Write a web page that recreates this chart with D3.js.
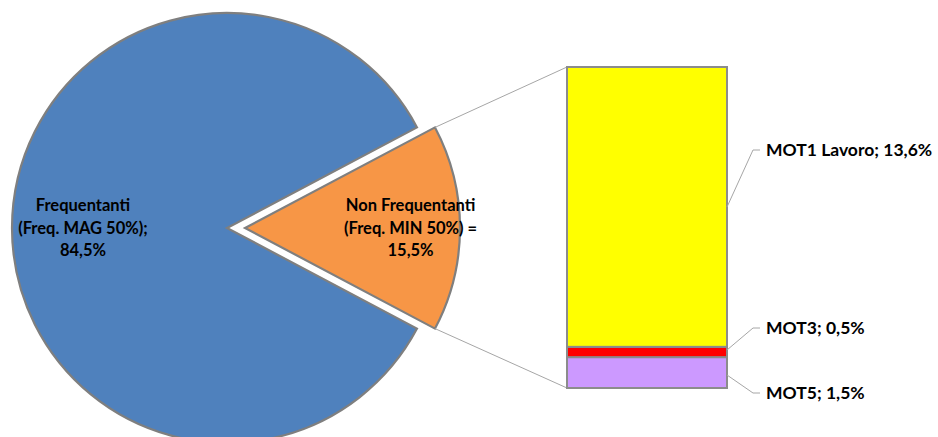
<!DOCTYPE html>
<html><head><meta charset="utf-8">
<script src="https://cdn.jsdelivr.net/npm/d3@7"></script>
<style>body{margin:0;background:#fff}svg{display:block}text{font-family:"Lato","Open Sans",sans-serif;font-weight:bold;fill:#000}</style>
</head><body>
<svg id="c" width="938" height="437"></svg>
<script>
const pieLabels = [["Frequentanti","(Freq. MAG 50%);","84,5%"],["Non Frequentanti","(Freq. MIN 50%) =","15,5%"]];
const pieValues = [84.5, 15.5];
const pieColors = ["#4F81BD", "#F79646"];
const barLabels = ["MOT1 Lavoro; 13,6%", "MOT3; 0,5%", "MOT5; 1,5%"];
const barValues = [13.6, 0.5, 1.5];
const barColors = ["#FFFF00", "#FF0000", "#CC99FF"];

const svg = d3.select("#c");
const cx = 227, cy = 228, R = 215, explode = 18;
const labelFrac = [0.67, 0.77];

const total = d3.sum(pieValues);
const start = Math.PI/2 + (pieValues[1]/total)*Math.PI;
const pie = d3.pie().sort(null).startAngle(start).endAngle(start + 2*Math.PI);
const arcs = pie(pieValues);
const arc = d3.arc().innerRadius(0).outerRadius(R);

const offs = arcs.map((a,i) => {
  if (i === 0) return [0,0];
  const m = (a.startAngle + a.endAngle)/2;
  return [explode*Math.sin(m), -explode*Math.cos(m)];
});

const g = svg.append("g");
arcs.forEach((a,i) => {
  g.append("path").attr("d", arc(a))
    .attr("transform", `translate(${cx+offs[i][0]},${cy+offs[i][1]})`)
    .attr("fill", pieColors[i]).attr("stroke", "#7F7F7F").attr("stroke-width", 2.2)
    .attr("stroke-linejoin","miter");
});

// bar
const barX = 567, barW = 160;
const y = d3.scaleLinear().domain([0, d3.sum(barValues)]).range([388, 67]);
let cum = 0;
const segsB = barValues.map((v,i) => ({v, i})).reverse().map(s => { const o = {i: s.i, y0: cum, y1: cum + s.v}; cum += s.v; return o; });

// connectors
const a1 = arcs[1];
const ox = cx + offs[1][0], oy = cy + offs[1][1];
const pTop = [ox + R*Math.sin(a1.startAngle), oy - R*Math.cos(a1.startAngle)];
const pBot = [ox + R*Math.sin(a1.endAngle), oy - R*Math.cos(a1.endAngle)];
svg.append("line").attr("x1", pTop[0]).attr("y1", pTop[1]).attr("x2", barX).attr("y2", y(cum))
  .attr("stroke", "#A6A6A6").attr("stroke-width", 1);
svg.append("line").attr("x1", pBot[0]).attr("y1", pBot[1]).attr("x2", barX).attr("y2", y(0))
  .attr("stroke", "#A6A6A6").attr("stroke-width", 1);

segsB.forEach(s => {
  svg.append("rect").attr("x", barX).attr("y", y(s.y1)).attr("width", barW)
    .attr("height", y(s.y0) - y(s.y1)).attr("fill", barColors[s.i])
    .attr("stroke", "#8C8C8C").attr("stroke-width", 2);
});

// bar labels with leader lines
const labY = [150, 328, 393];
const anchorY = [207, 350, 375];
barLabels.forEach((t,i) => {
  svg.append("polyline")
    .attr("points", `${barX+barW},${anchorY[i]} ${753},${labY[i]} ${760},${labY[i]}`)
    .attr("fill","none").attr("stroke","#A6A6A6").attr("stroke-width",1);
  svg.append("text").attr("x", 766).attr("y", labY[i]).attr("dy","0.35em")
    .attr("font-size", 17.5).text(t);
});

// pie labels
arcs.forEach((a,i) => {
  const la = d3.arc().innerRadius(R*labelFrac[i]).outerRadius(R*labelFrac[i]);
  const c = la.centroid(a);
  const t = svg.append("text").attr("text-anchor","middle").attr("font-size", 16.5)
    .attr("transform", `translate(${cx+offs[i][0]+c[0]},${cy+offs[i][1]+c[1]})`);
  pieLabels[i].forEach((line,k) => {
    t.append("tspan").attr("x", 0).attr("y", (k-1)*22.5).attr("dy","0.35em").text(line);
  });
});
</script>
</body></html>
